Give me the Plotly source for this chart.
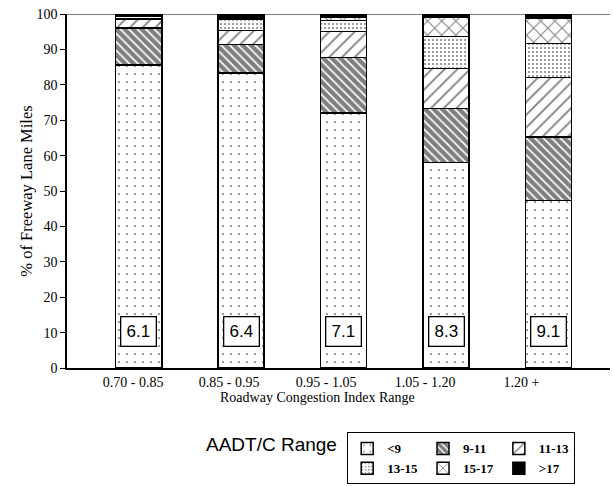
import plotly.graph_objects as go

categories = ["0.70 - 0.85", "0.85 - 0.95", "0.95 - 1.05", "1.05 - 1.20", "1.20 +"]
series_names = ["<9", "9-11", "11-13", "13-15", "15-17", ">17"]
v_lt9 = [85.6, 83.4, 72.0, 58.1, 47.3]
v_9_11 = [10.5, 8.0, 15.7, 15.2, 17.9]
v_11_13 = [2.5, 4.0, 7.4, 11.3, 16.9]
v_13_15 = [0.7, 3.1, 3.0, 9.1, 9.6]
v_15_17 = [0.2, 0.0, 1.1, 5.3, 7.0]
v_gt17 = [0.5, 1.5, 0.8, 1.0, 1.3]
avg_labels = ["6.1", "6.4", "7.1", "8.3", "9.1"]
y_ticks = [0, 10, 20, 30, 40, 50, 60, 70, 80, 90, 100]
# tick label positions (category index units, labels sit slightly left of bars as in the scan)
x_label_pos = [-0.054, 0.883, 1.829, 2.795, 3.736]

series_values = [v_lt9, v_9_11, v_11_13, v_13_15, v_15_17, v_gt17]
legend_columns = ["c1", "c2", "c3", "c1", "c2", "c3"]
patterns = [
    dict(shape=".", size=8, solidity=0.06, fgcolor="black", bgcolor="white"),
    dict(shape="\\", size=6, solidity=0.72, fgcolor="black", bgcolor="white"),
    dict(shape="/", size=9, solidity=0.2, fgcolor="black", bgcolor="white"),
    dict(shape=".", size=4, solidity=0.2, fgcolor="black", bgcolor="white"),
    dict(shape="x", size=10, solidity=0.2, fgcolor="black", bgcolor="white"),
    dict(shape="", fgcolor="black", bgcolor="black"),
]
colors = ["white", "white", "white", "white", "white", "black"]

serif = "Liberation Serif, Times New Roman, serif"
sans = "Liberation Sans, Arial, sans-serif"

fig = go.Figure()
for name, vals, pat, col, grp in zip(series_names, series_values, patterns, colors, legend_columns):
    fig.add_trace(go.Bar(
        x=categories, y=vals, name=name, width=0.45, legendgroup=grp,
        marker=dict(color=col, pattern=pat, line=dict(color="black", width=1.5)),
    ))

for cat, lab in zip(categories, avg_labels):
    fig.add_annotation(
        x=cat, y=10.3, text=lab, showarrow=False,
        font=dict(family=sans, size=17, color="black"),
        bgcolor="white", bordercolor="black", borderwidth=1.3,
        width=32, height=26,
    )

fig.add_annotation(
    xref="paper", yref="paper", x=0.376, y=-0.216, xanchor="center", yanchor="middle",
    text="AADT/C Range", showarrow=False,
    font=dict(family=sans, size=19, color="black"),
)
fig.add_annotation(
    xref="paper", yref="paper", x=0.462, y=-0.082, xanchor="center", yanchor="middle",
    text="Roadway Congestion Index Range", showarrow=False,
    font=dict(family=serif, size=14, color="black"),
)

fig.add_shape(type="line", xref="paper", yref="y", x0=0, x1=1, y0=100, y1=100,
              line=dict(color="black", width=1))

fig.update_layout(
    width=613, height=486,
    margin=dict(l=67, r=3, t=14, b=118, autoexpand=False),
    barmode="stack",
    plot_bgcolor="white", paper_bgcolor="white",
    showlegend=True,
    legend=dict(
        orientation="h", x=0.516, y=-0.182, xanchor="left", yanchor="top",
        bordercolor="black", borderwidth=1, bgcolor="white",
        font=dict(family=serif, size=13, color="black", weight="bold"),
        traceorder="grouped", tracegroupgap=0,
    ),
    xaxis=dict(
        range=[-0.7, 4.6], showline=True, linecolor="black", linewidth=1.5,
        ticks="", tickmode="array", tickvals=x_label_pos, ticktext=categories,
        tickfont=dict(family=serif, size=14, color="black"),
    ),
    yaxis=dict(
        range=[0, 100], tickvals=y_ticks, showline=True, linecolor="black", linewidth=1.5,
        ticks="outside", ticklen=5, tickcolor="black", showgrid=False, zeroline=False,
        tickfont=dict(family=serif, size=14, color="black"),
        title=dict(text="% of Freeway Lane Miles", font=dict(family=serif, size=16.5, color="black"), standoff=0),
    ),
)

fig.write_html("out.html")
